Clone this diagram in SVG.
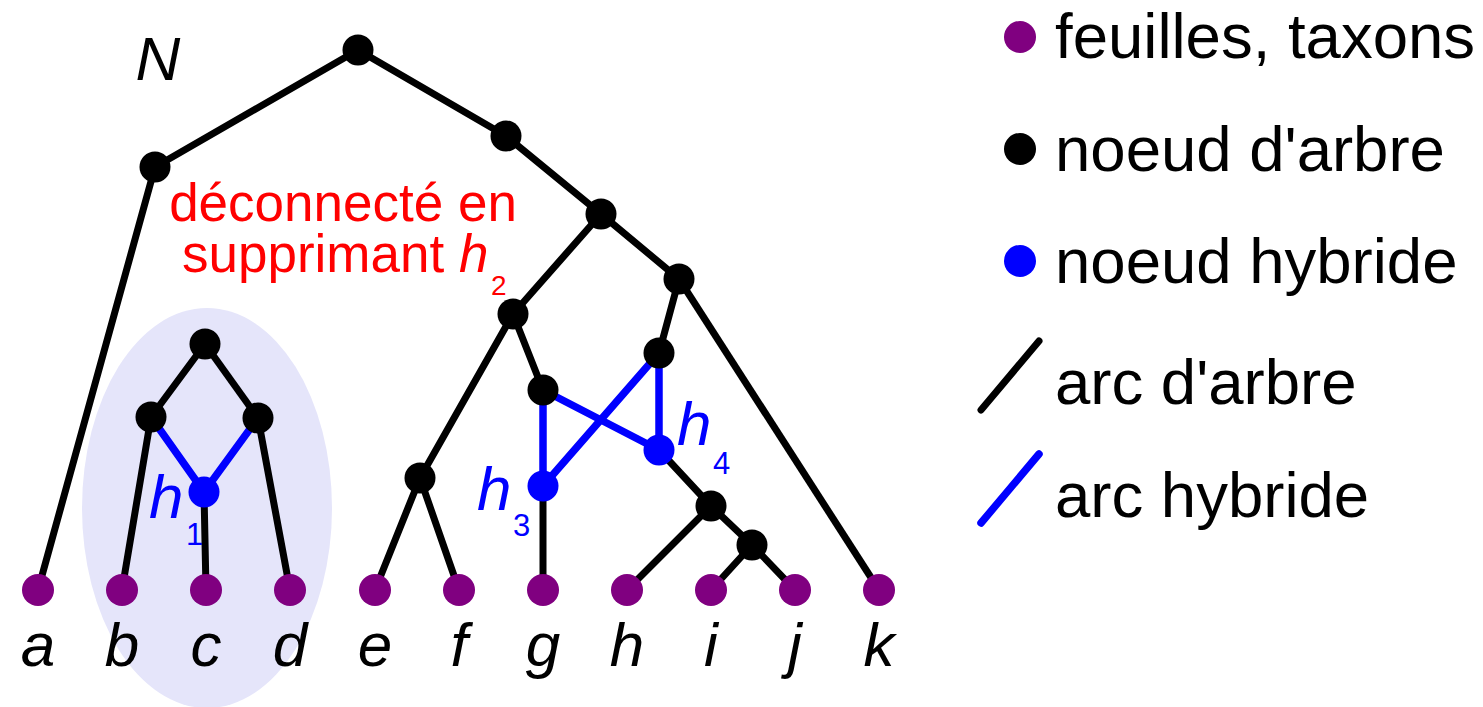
<svg xmlns="http://www.w3.org/2000/svg" width="1483" height="707" viewBox="0 0 1483 707">
<style>
.t{stroke:#000;stroke-width:7;stroke-linecap:round;fill:none}
.h{stroke:#0000ff;stroke-width:7.5;stroke-linecap:round;fill:none}
.tn{fill:#000}
.hn{fill:#0000ff}
.lf{fill:#800080}
.lab{font-family:"Liberation Sans",Arial,sans-serif;font-style:italic;font-size:62px;fill:#000;text-anchor:middle}
.leg{font-family:"Liberation Sans",Arial,sans-serif;font-size:63.5px;fill:#000}
.hl{font-family:"Liberation Sans",Arial,sans-serif;font-style:italic;font-size:62px;fill:#0000ff}
.sub{font-family:"Liberation Sans",Arial,sans-serif;font-size:31px;font-style:normal}
.red{font-family:"Liberation Sans",Arial,sans-serif;font-size:53px;fill:#ff0000}
.redsub{font-family:"Liberation Sans",Arial,sans-serif;font-size:28px;fill:#ff0000}
</style>
<rect width="1483" height="707" fill="#fff"/>
<ellipse id="highlight" cx="207" cy="508" rx="125" ry="200" fill="#e5e5fa"/>
<g id="connectors">
<line class="t" x1="358" y1="50" x2="155" y2="167"/>
<line class="t" x1="358" y1="50" x2="506" y2="136"/>
<line class="t" x1="155" y1="167" x2="38" y2="590"/>
<line class="t" x1="506" y1="136" x2="601" y2="214"/>
<line class="t" x1="601" y1="214" x2="513" y2="314"/>
<line class="t" x1="601" y1="214" x2="679" y2="279"/>
<line class="t" x1="679" y1="279" x2="659" y2="353"/>
<line class="t" x1="679" y1="279" x2="879" y2="590"/>
<line class="t" x1="513" y1="314" x2="420" y2="478"/>
<line class="t" x1="513" y1="314" x2="543" y2="390"/>
<line class="t" x1="420" y1="478" x2="375" y2="590"/>
<line class="t" x1="420" y1="478" x2="459" y2="590"/>
<line class="t" x1="543" y1="486" x2="543" y2="590"/>
<line class="t" x1="659" y1="450" x2="711" y2="506"/>
<line class="t" x1="711" y1="506" x2="627" y2="590"/>
<line class="t" x1="711" y1="506" x2="752" y2="545"/>
<line class="t" x1="752" y1="545" x2="711" y2="590"/>
<line class="t" x1="752" y1="545" x2="795" y2="590"/>
<line class="t" x1="205" y1="344" x2="151" y2="417"/>
<line class="t" x1="205" y1="344" x2="258" y2="418"/>
<line class="t" x1="151" y1="417" x2="122" y2="590"/>
<line class="t" x1="258" y1="418" x2="290" y2="590"/>
<line class="t" x1="204" y1="492" x2="206" y2="590"/>
<line class="h" x1="151" y1="417" x2="204" y2="492"/>
<line class="h" x1="258" y1="418" x2="204" y2="492"/>
<line class="h" x1="543" y1="390" x2="543" y2="486"/>
<line class="h" x1="543" y1="390" x2="659" y2="450"/>
<line class="h" x1="659" y1="353" x2="659" y2="450"/>
<line class="h" x1="659" y1="353" x2="543" y2="486"/>
</g>
<g id="tree-nodes">
<circle class="tn" cx="358" cy="50" r="15.5"/>
<circle class="tn" cx="155" cy="167" r="15.5"/>
<circle class="tn" cx="506" cy="136" r="15.5"/>
<circle class="tn" cx="601" cy="214" r="15.5"/>
<circle class="tn" cx="513" cy="314" r="15.5"/>
<circle class="tn" cx="679" cy="279" r="15.5"/>
<circle class="tn" cx="659" cy="353" r="15.5"/>
<circle class="tn" cx="543" cy="390" r="15.5"/>
<circle class="tn" cx="420" cy="478" r="15.5"/>
<circle class="tn" cx="711" cy="506" r="15.5"/>
<circle class="tn" cx="752" cy="545" r="15.5"/>
<circle class="tn" cx="205" cy="344" r="15.5"/>
<circle class="tn" cx="151" cy="417" r="15.5"/>
<circle class="tn" cx="258" cy="418" r="15.5"/>
</g>
<g id="hybrid-nodes">
<circle class="hn" cx="204" cy="492" r="15.5"/>
<circle class="hn" cx="543" cy="486" r="15.5"/>
<circle class="hn" cx="659" cy="450" r="15.5"/>
</g>
<g id="leaves">
<circle class="lf" cx="38" cy="590" r="16"/>
<circle class="lf" cx="122" cy="590" r="16"/>
<circle class="lf" cx="206" cy="590" r="16"/>
<circle class="lf" cx="290" cy="590" r="16"/>
<circle class="lf" cx="375" cy="590" r="16"/>
<circle class="lf" cx="459" cy="590" r="16"/>
<circle class="lf" cx="543" cy="590" r="16"/>
<circle class="lf" cx="627" cy="590" r="16"/>
<circle class="lf" cx="711" cy="590" r="16"/>
<circle class="lf" cx="795" cy="590" r="16"/>
<circle class="lf" cx="879" cy="590" r="16"/>
</g>
<g id="leaf-labels">
<text class="lab" x="38" y="666">a</text>
<text class="lab" x="122" y="666">b</text>
<text class="lab" x="206" y="666">c</text>
<text class="lab" x="290" y="666">d</text>
<text class="lab" x="375" y="666">e</text>
<text class="lab" x="459" y="666">f</text>
<text class="lab" x="543" y="666">g</text>
<text class="lab" x="627" y="666">h</text>
<text class="lab" x="711" y="666">i</text>
<text class="lab" x="795" y="666">j</text>
<text class="lab" x="879" y="666">k</text>
</g>
<g id="hybrid-labels">
<text class="hl" x="149" y="518">h<tspan class="sub" x="186" y="545">1</tspan></text>
<text class="hl" x="477" y="510">h<tspan class="sub" x="513" y="536">3</tspan></text>
<text class="hl" x="677" y="445">h<tspan class="sub" x="713" y="474">4</tspan></text>
</g>
<text id="label-N" class="lab" x="158" y="80">N</text>
<g id="note">
<text class="red" x="343" y="221" text-anchor="middle">déconnecté en</text>
<text class="red" x="182" y="272">supprimant</text>
<text class="red" x="459" y="272" font-style="italic">h</text>
<text class="redsub" x="491" y="295">2</text>
</g>
<g id="legend">
<circle class="lf" cx="1020" cy="37" r="16"/>
<text class="leg" x="1055" y="58">feuilles, taxons</text>
<circle class="tn" cx="1020" cy="149" r="16"/>
<text class="leg" x="1055" y="171">noeud d'arbre</text>
<circle class="hn" cx="1020" cy="261" r="16"/>
<text class="leg" x="1055" y="283">noeud hybride</text>
<line class="t" x1="981" y1="410" x2="1039" y2="341" stroke-linecap="butt"/>
<text class="leg" x="1055" y="404">arc d'arbre</text>
<line class="h" x1="981" y1="523" x2="1039" y2="454" stroke-linecap="butt"/>
<text class="leg" x="1055" y="517">arc hybride</text>
</g>
</svg>
